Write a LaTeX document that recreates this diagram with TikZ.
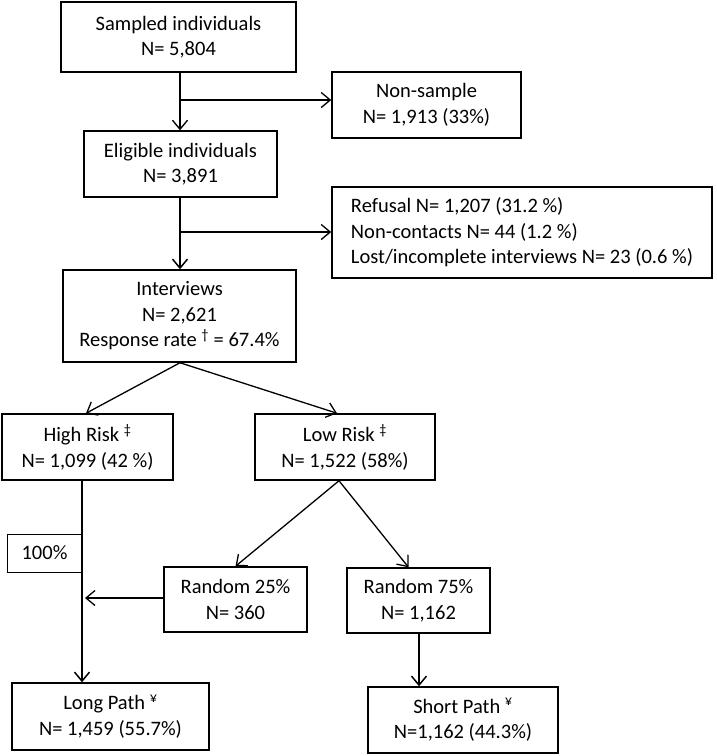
\documentclass[tikz,border=0pt]{standalone}
\usepackage{fontspec}
\setmainfont{Carlito}
\usetikzlibrary{arrows.meta}
\begin{document}
\begin{tikzpicture}[x=1pt,y=-1pt,
  box/.style={draw, line width=1.5pt, align=center, inner sep=0pt, font=\fontsize{20.5}{25.5}\selectfont},
  thinbox/.style={draw, line width=0.8pt, align=center, inner sep=0pt, font=\fontsize{20.5}{25.5}\selectfont},
  conn/.style={line width=1.3pt, -{Straight Barb[length=9pt,width=15pt,line width=1.3pt]}},
  thickconn/.style={line width=1.8pt, -{Straight Barb[length=9pt,width=15pt,line width=1.5pt]}}]
\useasboundingbox (0,0) rectangle (716,756);
\node[box, minimum width=235pt, minimum height=70pt] (samp) at (178.5,37) {Sampled individuals\\N= 5,804};
\node[box, minimum width=189pt, minimum height=66pt] (nons) at (426.5,105) {Non-sample\\N= 1,913 (33\%)};
\node[box, minimum width=193pt, minimum height=66pt] (elig) at (180.5,164) {Eligible individuals\\N= 3,891};
\node[box, minimum width=380pt, minimum height=91pt, align=left] (refu) at (522,232.5) {Refusal N= 1,207 (31.2 \%)\\Non-contacts N= 44 (1.2 \%)\\Lost/incomplete interviews N= 23 (0.6 \%)};
\node[box, minimum width=233pt, minimum height=92pt] (intv) at (179.5,316) {Interviews\\N= 2,621\\Response rate \textsuperscript{†} = 67.4\%};
\node[box, minimum width=171pt, minimum height=66pt] (high) at (87.5,447) {High Risk \textsuperscript{‡}\\N= 1,099 (42 \%)};
\node[box, minimum width=180pt, minimum height=66pt] (low) at (345,447) {Low Risk \textsuperscript{‡}\\N= 1,522 (58\%)};
\node[thinbox, minimum width=75pt, minimum height=38pt] (p100) at (44.5,553) {100\%};
\node[box, minimum width=143pt, minimum height=65pt] (r25) at (235.5,599.5) {Random 25\%\\N= 360};
\node[box, minimum width=143pt, minimum height=65pt] (r75) at (418.5,600.5) {Random 75\%\\N= 1,162};
\node[box, minimum width=197pt, minimum height=67pt] (long) at (110.5,716.5) {Long Path \textsuperscript{¥}\\N= 1,459 (55.7\%)};
\node[box, minimum width=190pt, minimum height=66pt] (short) at (463,720) {Short Path \textsuperscript{¥}\\N=1,162 (44.3\%)};
\coordinate (b1) at (180,100);
\coordinate (b2) at (180,232);
\coordinate (b3) at (82,598);
\coordinate (b4) at (419,0);
\draw[conn] (samp.south -| b1) -- (elig.north -| b1);
\draw[conn] (b1) -- (b1 -| nons.west);
\draw[thickconn] (elig.south -| b2) -- (intv.north -| b2);
\draw[conn] (b2) -- (b2 -| refu.west);
\draw[conn] (intv.south -| b1) -- ([xshift=-1.5pt]high.north);
\draw[conn] (intv.south -| b1) -- ([xshift=-8pt]low.north);
\draw[thickconn] (high.south -| b3) -- (long.north -| b3);
\draw[conn] ([xshift=-6pt]low.south) -- (r25.north);
\draw[conn] ([xshift=-6pt]low.south) -- ([xshift=-10pt]r75.north);
\draw[conn] (r25.west |- b3) -- ([xshift=3pt]b3);
\draw[thickconn] (r75.south -| b4) -- (short.north -| b4);
\end{tikzpicture}
\end{document}
